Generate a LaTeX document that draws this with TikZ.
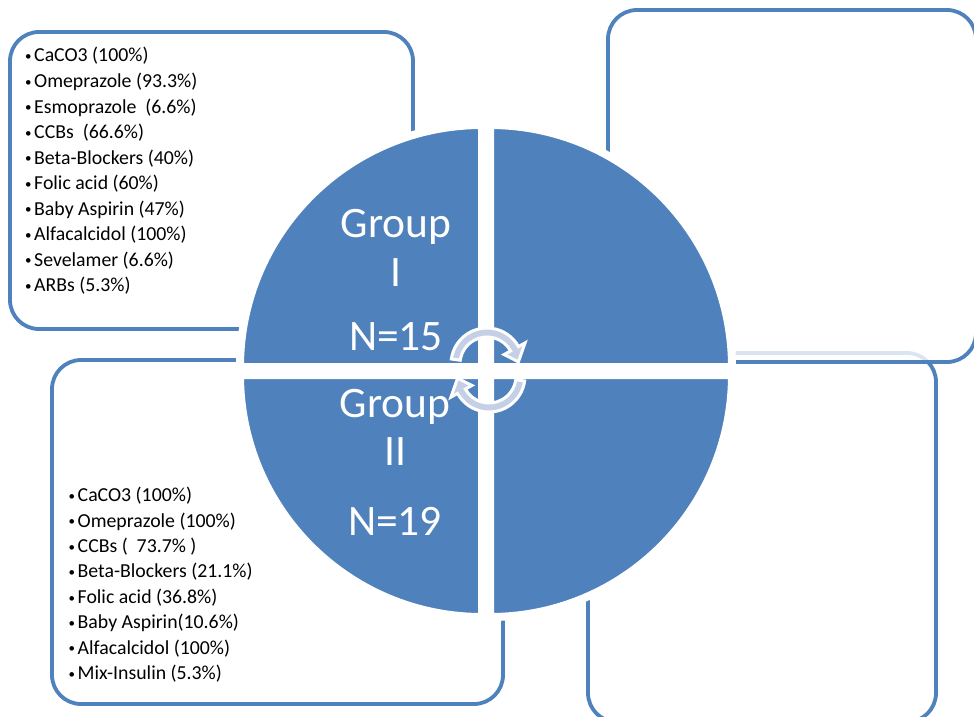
\documentclass[tikz,border=0pt]{standalone}
\usepackage{fontspec}
\setmainfont{Carlito}
\definecolor{accent}{HTML}{4F81BD}
\definecolor{arrowfill}{RGB}{197,208,230}
\newcommand{\bul}{\makebox[9pt][l]{\raisebox{1.2pt}{\fontsize{13}{13}\selectfont •}}}
\begin{document}
\begin{tikzpicture}[x=1pt,y=1pt,
  box/.style={draw=accent, line width=3.8pt, fill=white, rounded corners=29pt},
  quad/.style={fill=accent, draw=white, line width=8pt, line join=miter},
  cyc/.style={fill=arrowfill, draw=white, line width=3pt, line join=miter},
  big/.style={text=white, font=\fontsize{43.5}{50}\selectfont, anchor=base, inner sep=0pt},
  item/.style={font=\fontsize{19.8}{24}\selectfont, anchor=base west, inner sep=0pt, text=black}]
\fill[white] (0,0) rectangle (974,-717);
\useasboundingbox (0,0) rectangle (974,-717);
% boxes
\draw[box] (588,-353) rectangle (936,-722);
\draw[box, fill opacity=0.8] (608,-10) rectangle (976,-362);
\draw[box] (10,-32) rectangle (413,-329);
\draw[box] (52,-360) rectangle (503,-704);
% quadrants
\draw[quad] (482,-367) -- ++(-242,0) arc[start angle=180, end angle=90, radius=242pt] -- cycle;
\draw[quad] (490,-367) -- ++(0,242) arc[start angle=90, end angle=0, radius=242pt] -- cycle;
\draw[quad] (482,-375) -- ++(0,-242) arc[start angle=270, end angle=180, radius=242pt] -- cycle;
\draw[quad] (490,-375) -- ++(242,0) arc[start angle=0, end angle=-90, radius=242pt] -- cycle;
% group labels
\node[big] (g1a) at (396,-237) {Group};
\node[big] (g1b) at (396,-286) {I};
\node[big] (g1c) at (396,-350) {N=15};
\node[big] (g2a) at (395,-417) {Group};
\node[big] (g2b) at (395,-465) {II};
\node[big] (g2c) at (395,-535) {N=19};
% cycle arrows
\begin{scope}[shift={(487,-364)}]
\draw[cyc] (172:36pt) arc[start angle=172, end angle=29, radius=36pt]
  -- (29:43.5pt) -- (4:31.5pt) -- (29:19.5pt) -- (29:27pt)
  arc[start angle=29, end angle=172, radius=27pt] -- cycle;
\end{scope}
\begin{scope}[shift={(489,-376)}]
\draw[cyc] (-8:36pt) arc[start angle=-8, end angle=-151, radius=36pt]
  -- (-151:43.5pt) -- (-176:31.5pt) -- (-151:19.5pt) -- (-151:27pt)
  arc[start angle=-151, end angle=-8, radius=27pt] -- cycle;
\end{scope}
% lists
\foreach \t [count=\i] in {{CaCO3 (100\%)},{Omeprazole (93.3\%)},{Esmoprazole\ \ (6.6\%)},{CCBs\ \ (66.6\%)},{Beta-Blockers (40\%)},{Folic acid (60\%)},{Baby Aspirin (47\%)},{Alfacalcidol (100\%)},{Sevelamer (6.6\%)},{ARBs (5.3\%)}}
  \node[item] (a\i) at (25,{-62-25.5*(\i-1)}) {\bul\t};
\foreach \t [count=\i] in {{CaCO3 (100\%)},{Omeprazole (100\%)},{CCBs (\ \ 73.7\% )},{Beta-Blockers (21.1\%)},{Folic acid (36.8\%)},{Baby Aspirin(10.6\%)},{Alfacalcidol (100\%)},{Mix-Insulin (5.3\%)}}
  \node[item] (b\i) at (68.5,{-501.7-25.4*(\i-1)}) {\bul\t};
\end{tikzpicture}
\end{document}
